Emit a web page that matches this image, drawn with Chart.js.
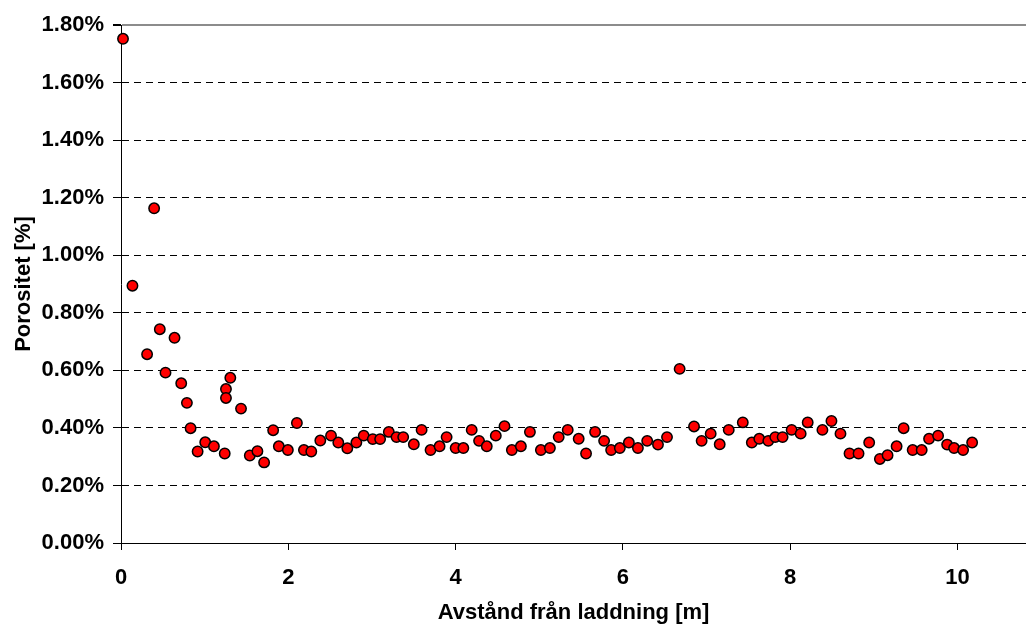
<!DOCTYPE html>
<html>
<head>
<meta charset="utf-8">
<script src="https://cdn.jsdelivr.net/npm/chart.js@4.4.1/dist/chart.umd.min.js"></script>
<style>
  body { margin: 0; background: white; }
  canvas { display: block; }
</style>
</head>
<body>
<canvas id="myChart" width="1026" height="626"></canvas>
<script>
// avstand fran laddning [m]
const avstand = [
  0.024, 0.137, 0.312, 0.396, 0.464, 0.532, 0.640, 0.720, 0.788, 0.832,
  0.916, 1.007, 1.111, 1.240, 1.255, 1.255, 1.307, 1.435, 1.540, 1.631,
  1.711, 1.819, 1.887, 1.995, 2.103, 2.187, 2.275, 2.383, 2.511, 2.598,
  2.706, 2.814, 2.902, 3.010, 3.098, 3.202, 3.294, 3.374, 3.501, 3.594,
  3.701, 3.809, 3.893, 4.001, 4.093, 4.193, 4.281, 4.373, 4.481, 4.585,
  4.673, 4.781, 4.889, 5.020, 5.128, 5.233, 5.341, 5.472, 5.560, 5.668,
  5.776, 5.860, 5.964, 6.072, 6.180, 6.291, 6.420, 6.528, 6.679, 6.851,
  6.942, 7.050, 7.158, 7.266, 7.434, 7.542, 7.631, 7.739, 7.822, 7.910,
  8.018, 8.126, 8.210, 8.386, 8.494, 8.602, 8.710, 8.818, 8.945, 9.073,
  9.165, 9.273, 9.357, 9.465, 9.573, 9.661, 9.769, 9.877, 9.960, 10.068,
  10.176
];

// porositet i procent
const porositet = [
  1.752, 0.894, 0.656, 1.163, 0.743, 0.592, 0.713, 0.555, 0.487, 0.399,
  0.318, 0.350, 0.336, 0.311, 0.535, 0.504, 0.574, 0.467, 0.304, 0.319,
  0.280, 0.392, 0.336, 0.323, 0.417, 0.323, 0.318, 0.356, 0.373, 0.349,
  0.329, 0.349, 0.373, 0.361, 0.361, 0.386, 0.368, 0.368, 0.343, 0.393,
  0.323, 0.336, 0.368, 0.330, 0.330, 0.393, 0.355, 0.336, 0.373, 0.406,
  0.323, 0.336, 0.386, 0.323, 0.330, 0.368, 0.393, 0.362, 0.311, 0.386,
  0.355, 0.323, 0.330, 0.349, 0.330, 0.355, 0.342, 0.368, 0.605, 0.405,
  0.355, 0.380, 0.343, 0.393, 0.419, 0.349, 0.362, 0.355, 0.368, 0.368,
  0.393, 0.380, 0.419, 0.393, 0.424, 0.380, 0.311, 0.311, 0.349, 0.292,
  0.305, 0.336, 0.399, 0.323, 0.323, 0.362, 0.373, 0.342, 0.330, 0.323,
  0.349
];

const xTicks = [0, 2, 4, 6, 8, 10];
const yTicks = [0, 0.2, 0.4, 0.6, 0.8, 1.0, 1.2, 1.4, 1.6, 1.8];
const yTickLabels = ["0.00%", "0.20%", "0.40%", "0.60%", "0.80%", "1.00%", "1.20%", "1.40%", "1.60%", "1.80%"];

const xTitle = "Avstånd från laddning [m]";
const yTitle = "Porositet [%]";

// punkterna byggs fran de tva listorna
let punkter = [];
for (let i = 0; i < avstand.length; i++) {
  punkter.push({ x: avstand[i], y: porositet[i] });
}

const fontFam = "'Liberation Sans', Arial, sans-serif";

const config = {
  type: "scatter",
  data: {
    datasets: [
      {
        label: "Porositet",
        data: punkter,
        backgroundColor: "#ff0000",
        borderColor: "#000000",
        borderWidth: 1.5,
        pointRadius: 5.2,
        clip: false,
      },
    ],
  },
  options: {
    responsive: false,
    animation: false,
    devicePixelRatio: 1,
    // autoPadding av, annars reserveras plats for punkternas radie
    layout: { autoPadding: false, padding: { top: 25, right: 0, bottom: 0, left: 0 } },
    plugins: {
      legend: { display: false },
      tooltip: { enabled: false },
    },
    scales: {
      x: {
        type: "linear",
        min: 0,
        max: 10.82,
        afterBuildTicks: function (scale) {
          scale.ticks = xTicks.map(function (v) { return { value: v }; });
        },
        afterFit: function (scale) {
          scale.height = 83;
        },
        ticks: {
          color: "#000",
          padding: 15,
          font: { family: fontFam, size: 22, weight: "bold" },
          callback: function (v) { return String(v); },
        },
        grid: {
          drawOnChartArea: false,
          drawTicks: true,
          tickLength: 7,
          color: "#000",
        },
        border: { display: true, color: "#000", width: 1 },
        title: {
          display: true,
          text: xTitle,
          color: "#000",
          font: { family: fontFam, size: 22, weight: "bold" },
          padding: { top: 0, bottom: 0 },
        },
      },
      y: {
        type: "linear",
        min: 0,
        max: 1.8,
        afterBuildTicks: function (scale) {
          scale.ticks = yTicks.map(function (v) { return { value: v }; });
        },
        afterFit: function (scale) {
          scale.width = 121;
        },
        ticks: {
          color: "#000",
          padding: 9,
          font: { family: fontFam, size: 22, weight: "bold" },
          callback: function (v, i) { return yTickLabels[i]; },
        },
        grid: {
          drawTicks: true,
          tickLength: 8,
          tickColor: "#000",
          // oversta linjen ar gra och hel, resten streckade
          color: function (ctx) {
            return ctx.tick && ctx.tick.value >= 1.79 ? "#8c8c8c" : "#000";
          },
          lineWidth: function (ctx) {
            return ctx.tick && ctx.tick.value >= 1.79 ? 2 : 1;
          },
        },
        border: {
          display: true,
          color: "#000",
          width: 1,
          dash: function (ctx) {
            return ctx.tick && ctx.tick.value >= 1.79 ? [] : [7, 5];
          },
        },
        title: {
          display: true,
          text: yTitle,
          color: "#000",
          font: { family: fontFam, size: 22, weight: "bold" },
          padding: { top: 11, bottom: 0 },
        },
      },
    },
  },
};

const myChart = document.getElementById("myChart");
const chart = new Chart(myChart, config);
</script>
</body>
</html>
